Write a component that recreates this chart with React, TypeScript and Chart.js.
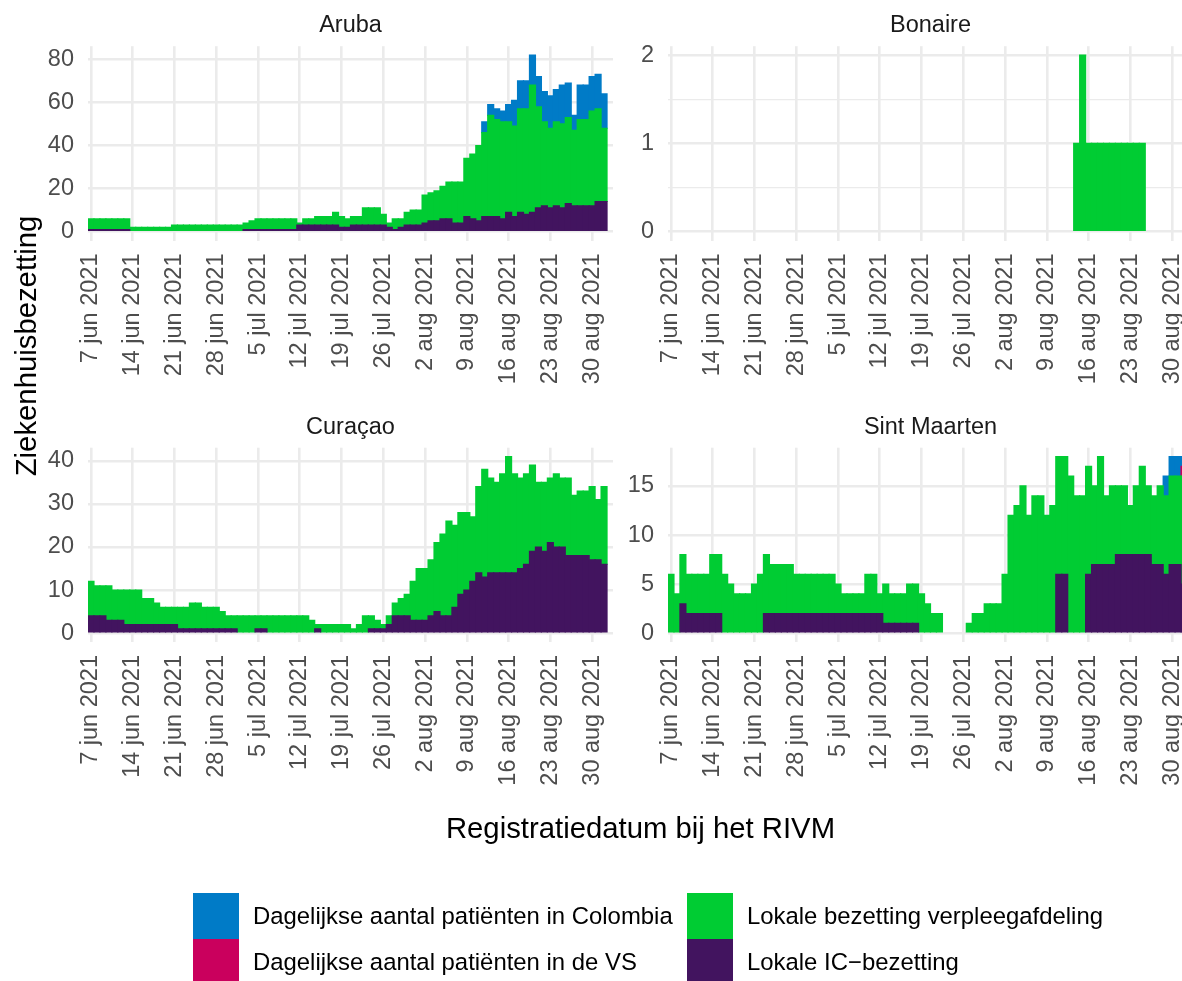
import React, { useEffect, useRef } from "react";
import { Chart, registerables } from "chart.js";

Chart.register(...registerables);

const FONT = '"Liberation Sans", Arial, Helvetica, sans-serif';

// ---------- categories (daily, 7 jun 2021 .. 2 sep 2021) ----------
const MONTHS = ["jan", "feb", "mrt", "apr", "mei", "jun", "jul", "aug", "sep", "okt", "nov", "dec"];
const START_UTC = Date.UTC(2021, 5, 7);
const N_DAYS = 88;
const DATES: string[] = Array.from({ length: N_DAYS }, (_, i) => {
  const d = new Date(START_UTC + i * 86400000);
  return `${d.getUTCDate()} ${MONTHS[d.getUTCMonth()]} 2021`;
});
const TICK_LABELS = [
  "7 jun 2021", "14 jun 2021", "21 jun 2021", "28 jun 2021", "5 jul 2021", "12 jul 2021",
  "19 jul 2021", "26 jul 2021", "2 aug 2021", "9 aug 2021", "16 aug 2021", "23 aug 2021", "30 aug 2021",
];

// ---------- Aruba ----------
const IC_ARUBA = [
  1, 1, 1, 1, 1, 1, 1, 0, 0, 0,
  0, 0, 0, 0, 0, 0, 0, 0, 0, 0,
  0, 0, 0, 0, 0, 0, 1, 1, 1, 1,
  1, 1, 1, 1, 1, 3, 3, 3, 3, 3,
  3, 3, 2, 2, 3, 3, 3, 3, 3, 3,
  2, 1, 2, 3, 3, 3, 4, 5, 5, 6,
  6, 4, 4, 7, 6, 5, 7, 7, 7, 6,
  9, 7, 9, 8, 9, 11, 12, 11, 12, 11,
  13, 12, 12, 12, 12, 14, 14, 0,
];
const VERPLEEG_ARUBA = [
  5, 5, 5, 5, 5, 5, 5, 2, 2, 2,
  2, 2, 2, 2, 3, 3, 3, 3, 3, 3,
  3, 3, 3, 3, 3, 3, 3, 4, 5, 5,
  5, 5, 5, 5, 5, 1, 3, 3, 4, 4,
  4, 6, 5, 4, 4, 4, 8, 8, 8, 5,
  2, 5, 4, 6, 7, 7, 13, 13, 14, 15,
  17, 19, 19, 27, 30, 35, 39, 47, 45, 45,
  42, 42, 48, 49, 59, 47, 39, 37, 39, 39,
  40, 35, 40, 40, 44, 43, 34, 0,
];
const COLOMBIA_ARUBA = [
  0, 0, 0, 0, 0, 0, 0, 0, 0, 0,
  0, 0, 0, 0, 0, 0, 0, 0, 0, 0,
  0, 0, 0, 0, 0, 0, 0, 0, 0, 0,
  0, 0, 0, 0, 0, 0, 0, 0, 0, 0,
  0, 0, 0, 0, 0, 0, 0, 0, 0, 0,
  0, 0, 0, 0, 0, 0, 0, 0, 0, 0,
  0, 0, 0, 0, 0, 0, 5, 5, 5, 5,
  8, 12, 13, 13, 14, 14, 14, 15, 15, 18,
  16, 7, 16, 16, 16, 16, 16, 0,
];

// ---------- Bonaire ----------
const VERPLEEG_BONAIRE = [
  0, 0, 0, 0, 0, 0, 0, 0, 0, 0,
  0, 0, 0, 0, 0, 0, 0, 0, 0, 0,
  0, 0, 0, 0, 0, 0, 0, 0, 0, 0,
  0, 0, 0, 0, 0, 0, 0, 0, 0, 0,
  0, 0, 0, 0, 0, 0, 0, 0, 0, 0,
  0, 0, 0, 0, 0, 0, 0, 0, 0, 0,
  0, 0, 0, 0, 0, 0, 0, 0, 1, 2,
  1, 1, 1, 1, 1, 1, 1, 1, 1, 1,
  0, 0, 0, 0, 0, 0, 0, 0,
];

// ---------- Curaçao ----------
const IC_CURACAO = [
  4, 4, 4, 3, 3, 3, 2, 2, 2, 2,
  2, 2, 2, 2, 2, 1, 1, 1, 1, 1,
  1, 1, 1, 1, 1, 0, 0, 0, 1, 1,
  0, 0, 0, 0, 0, 0, 0, 0, 1, 0,
  0, 0, 0, 0, 0, 0, 0, 1, 1, 1,
  2, 4, 4, 4, 3, 3, 3, 4, 5, 4,
  4, 6, 9, 10, 12, 14, 13, 14, 14, 14,
  14, 14, 15, 16, 19, 20, 19, 21, 20, 20,
  18, 18, 18, 18, 17, 17, 16, 0,
];
const VERPLEEG_CURACAO = [
  8, 7, 7, 8, 7, 7, 8, 8, 8, 6,
  6, 5, 4, 4, 4, 5, 5, 6, 6, 5,
  5, 5, 4, 3, 3, 4, 4, 4, 3, 3,
  4, 4, 4, 4, 4, 4, 4, 3, 1, 2,
  2, 2, 2, 2, 1, 2, 4, 3, 2, 1,
  2, 3, 4, 5, 9, 12, 12, 13, 16, 19,
  22, 19, 19, 18, 15, 20, 25, 22, 21, 23,
  27, 23, 21, 21, 20, 15, 16, 15, 17, 16,
  18, 14, 15, 15, 17, 14, 18, 0,
];

// ---------- Sint Maarten ----------
const IC_SXM = [
  0, 0, 3, 2, 2, 2, 2, 2, 2, 0,
  0, 0, 0, 0, 0, 0, 2, 2, 2, 2,
  2, 2, 2, 2, 2, 2, 2, 2, 2, 2,
  2, 2, 2, 2, 2, 2, 1, 1, 1, 1,
  1, 1, 0, 0, 0, 0, 0, 0, 0, 0,
  0, 0, 0, 0, 0, 0, 0, 0, 0, 0,
  0, 0, 0, 0, 0, 6, 6, 0, 0, 0,
  6, 7, 7, 7, 7, 8, 8, 8, 8, 8,
  8, 7, 7, 6, 7, 7, 5, 0,
];
const VERPLEEG_SXM = [
  6, 4, 5, 4, 4, 4, 4, 6, 6, 6,
  5, 4, 4, 4, 5, 6, 6, 5, 5, 5,
  5, 4, 4, 4, 4, 4, 4, 4, 3, 2,
  2, 2, 2, 4, 4, 2, 4, 3, 3, 3,
  4, 4, 4, 3, 2, 2, 0, 0, 0, 0,
  1, 2, 2, 3, 3, 3, 6, 12, 13, 15,
  12, 14, 14, 12, 13, 12, 12, 16, 14, 14,
  11, 8, 11, 7, 8, 7, 7, 5, 7, 9,
  7, 7, 8, 8, 9, 9, 11, 0,
];
const VS_SXM = [
  0, 0, 0, 0, 0, 0, 0, 0, 0, 0,
  0, 0, 0, 0, 0, 0, 0, 0, 0, 0,
  0, 0, 0, 0, 0, 0, 0, 0, 0, 0,
  0, 0, 0, 0, 0, 0, 0, 0, 0, 0,
  0, 0, 0, 0, 0, 0, 0, 0, 0, 0,
  0, 0, 0, 0, 0, 0, 0, 0, 0, 0,
  0, 0, 0, 0, 0, 0, 0, 0, 0, 0,
  0, 0, 0, 0, 0, 0, 0, 0, 0, 0,
  0, 0, 0, 0, 0, 0, 1, 0,
];
const COLOMBIA_SXM = [
  0, 0, 0, 0, 0, 0, 0, 0, 0, 0,
  0, 0, 0, 0, 0, 0, 0, 0, 0, 0,
  0, 0, 0, 0, 0, 0, 0, 0, 0, 0,
  0, 0, 0, 0, 0, 0, 0, 0, 0, 0,
  0, 0, 0, 0, 0, 0, 0, 0, 0, 0,
  0, 0, 0, 0, 0, 0, 0, 0, 0, 0,
  0, 0, 0, 0, 0, 0, 0, 0, 0, 0,
  0, 0, 0, 0, 0, 0, 0, 0, 0, 0,
  0, 0, 0, 2, 2, 2, 1, 0,
];

// ---------- series / legend ----------
const SERIES_LABELS = {
  ic: "Lokale IC\u2212bezetting",
  verpleeg: "Lokale bezetting verpleegafdeling",
  vs: "Dagelijkse aantal patiënten in de VS",
  colombia: "Dagelijkse aantal patiënten in Colombia",
};
const SERIES_COLORS = {
  ic: "#42145F",
  verpleeg: "#00CC33",
  vs: "#CA005D",
  colombia: "#007BC7",
};
const STACK_ORDER = ["ic", "verpleeg", "vs", "colombia"];

const PANELS = [
  { title: "Aruba", step: 20, col: 0, row: 0, series: { ic: IC_ARUBA, verpleeg: VERPLEEG_ARUBA, colombia: COLOMBIA_ARUBA } },
  { title: "Bonaire", step: 1, col: 1, row: 0, series: { verpleeg: VERPLEEG_BONAIRE } },
  { title: "Curaçao", step: 10, col: 0, row: 1, series: { ic: IC_CURACAO, verpleeg: VERPLEEG_CURACAO } },
  { title: "Sint Maarten", step: 5, col: 1, row: 1, series: { ic: IC_SXM, verpleeg: VERPLEEG_SXM, vs: VS_SXM, colombia: COLOMBIA_SXM } },
];

// ---------- layout ----------
const W = 1182;
const H = 981;
const COL_AREA_LEFT = [88, 668];
const AREA_W = 525;
const ROW_AREA_TOP = [46.2, 447.7];
const AREA_H = 194.3;
const CANVAS_LEFT = [0, 620];
const CANVAS_TOP = [0, 400];
const CANVAS_H = 400;
const GRID = "#EBEBEB";
const TICK_COLOR = "#4D4D4D";
const TICK_SIZE = 23.5;
const LEGEND_SIZE = 23.9;

function Panel({ panel }: any) {
  const ref = useRef<HTMLCanvasElement | null>(null);
  const left = CANVAS_LEFT[panel.col];
  const top = CANVAS_TOP[panel.row];
  const yAxisW = COL_AREA_LEFT[panel.col] - left;
  const width = yAxisW + AREA_W;
  const padTop = ROW_AREA_TOP[panel.row] - top;

  useEffect(() => {
    if (!ref.current) return;
    const keys = STACK_ORDER.filter((k) => panel.series[k]);
    const datasets = keys.map((k) => ({
      label: (SERIES_LABELS as any)[k],
      data: panel.series[k].map((v: number) => (v === 0 ? null : v)),
      backgroundColor: (SERIES_COLORS as any)[k],
      borderWidth: 0,
      barPercentage: 1,
      categoryPercentage: 1,
      inflateAmount: 0.6,
      stack: "s",
    }));
    const totals = DATES.map((_, i) => keys.reduce((a, k) => a + panel.series[k][i], 0));
    const yMax = Math.max(...totals);
    const step = panel.step;
    const isMajor = (v: number) => Math.abs(v / step - Math.round(v / step)) < 1e-6;

    const chart = new Chart(ref.current, {
      type: "bar",
      data: { labels: DATES, datasets },
      options: {
        responsive: false,
        animation: false,
        devicePixelRatio: 1,
        layout: { padding: { top: padTop, left: 0, right: 0, bottom: 0 }, autoPadding: false },
        plugins: { legend: { display: false }, tooltip: { enabled: false }, title: { display: false } },
        scales: {
          x: {
            type: "category",
            stacked: true,
            offset: true,
            grid: { color: GRID, lineWidth: 2.6, offset: false, drawTicks: false },
            border: { display: false },
            ticks: {
              autoSkip: false,
              minRotation: 90,
              maxRotation: 90,
              padding: 13,
              color: TICK_COLOR,
              font: { family: FONT, size: TICK_SIZE },
            },
            afterBuildTicks: (scale: any) => {
              scale.ticks = scale.ticks.filter((t: any) => TICK_LABELS.includes(DATES[t.value]));
            },
            afterFit: (scale: any) => {
              scale.height = CANVAS_H - padTop - AREA_H;
              scale.paddingLeft = 0;
              scale.paddingRight = 0;
            },
          },
          y: {
            type: "linear",
            stacked: true,
            min: -0.05 * yMax,
            max: 1.05 * yMax,
            grid: {
              color: GRID,
              lineWidth: (ctx: any) => (ctx.tick && isMajor(ctx.tick.value) ? 2.6 : 1.3),
              drawTicks: false,
            },
            border: { display: false },
            ticks: {
              padding: 14,
              color: TICK_COLOR,
              font: { family: FONT, size: TICK_SIZE },
              callback: (v: any) => (isMajor(Number(v)) ? String(v) : ""),
            },
            afterBuildTicks: (scale: any) => {
              const t: any[] = [];
              for (let k = 0; (k * step) / 2 <= yMax + 1e-9; k++) t.push({ value: (k * step) / 2 });
              scale.ticks = t;
            },
            afterFit: (scale: any) => {
              scale.width = yAxisW;
              scale.paddingTop = 0;
              scale.paddingBottom = 0;
            },
          },
        },
      } as any,
    });
    return () => chart.destroy();
  }, []);

  return (
    <canvas
      ref={ref}
      width={width}
      height={CANVAS_H}
      style={{ position: "absolute", left, top, width, height: CANVAS_H }}
    />
  );
}

const LEGEND_ITEMS = [
  { key: "colombia", x: 193, y: 893 },
  { key: "vs", x: 193, y: 939 },
  { key: "verpleeg", x: 687, y: 893 },
  { key: "ic", x: 687, y: 939 },
];
const KEY_SIZE = 46;

export default function App() {
  return (
    <div
      style={{
        position: "absolute",
        left: 0,
        top: 0,
        width: W,
        height: H,
        overflow: "hidden",
        background: "#FFFFFF",
      }}
    >
      {PANELS.map((p) => (
        <Panel key={p.title} panel={p} />
      ))}
      <svg
        width={W}
        height={H}
        style={{ position: "absolute", left: 0, top: 0, pointerEvents: "none" }}
        fontFamily={FONT}
      >
        {PANELS.map((p) => (
          <text
            key={"t" + p.title}
            x={COL_AREA_LEFT[p.col] + AREA_W / 2}
            y={ROW_AREA_TOP[p.row] - 13.9}
            textAnchor="middle"
            fontSize={TICK_SIZE}
            fill="#1A1A1A"
          >
            {p.title}
          </text>
        ))}
        <text transform="translate(36,346) rotate(-90)" textAnchor="middle" fontSize={29.3} fill="#000">
          Ziekenhuisbezetting
        </text>
        <text x={640.5} y={838} textAnchor="middle" fontSize={29.3} fill="#000">
          Registratiedatum bij het RIVM
        </text>
        {LEGEND_ITEMS.map((it) => (
          <g key={it.key}>
            <rect x={it.x} y={it.y} width={KEY_SIZE} height={KEY_SIZE} fill={(SERIES_COLORS as any)[it.key]} />
            <text x={it.x + 60} y={it.y + KEY_SIZE / 2 + 8.3} fontSize={LEGEND_SIZE} fill="#000">
              {(SERIES_LABELS as any)[it.key]}
            </text>
          </g>
        ))}
      </svg>
    </div>
  );
}
